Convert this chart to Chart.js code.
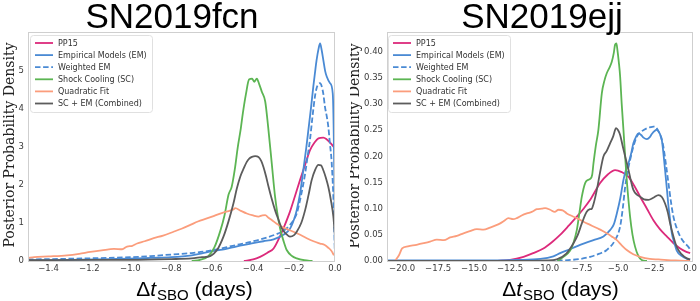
<!DOCTYPE html>
<html>
<head>
<meta charset="utf-8">
<script src="https://cdn.jsdelivr.net/npm/chart.js@4.4.1/dist/chart.umd.min.js"></script>
<style>
  html, body { margin: 0; padding: 0; background: #ffffff; }
  body { width: 700px; height: 301px; position: relative; overflow: hidden; }
  .panel { position: absolute; top: 0; width: 350px; height: 301px; }
</style>
</head>
<body>
<div class="panel" style="left:0"><canvas id="c1" width="350" height="301"></canvas></div>
<div class="panel" style="left:350px"><canvas id="c2" width="350" height="301"></canvas></div>
<script>
// ---------------- Data: SN2019fcn (left) ----------------
const fcnTicksX = [-1.4, -1.2, -1.0, -0.8, -0.6, -0.4, -0.2, 0.0];
const fcnTicksY = [0, 1, 2, 3, 4, 5];

const fcnPP15X = [-0.445, -0.40, -0.366, -0.33, -0.30, -0.268, -0.245, -0.22, -0.195, -0.171, -0.145, -0.122, -0.10, -0.081, -0.057, -0.04, -0.024, -0.005, 0.0];
const fcnPP15Y = [0.0, 0.04, 0.11, 0.22, 0.33, 0.66, 0.95, 1.3, 1.72, 2.13, 2.55, 2.92, 3.12, 3.23, 3.25, 3.2, 3.12, 3.0, 2.98];

const fcnEMX = [-1.5, -1.3, -1.1, -1.0, -0.9, -0.8, -0.7, -0.65, -0.6, -0.55, -0.5, -0.45, -0.4, -0.35, -0.3, -0.25, -0.22, -0.2, -0.187, -0.17, -0.155, -0.14, -0.13, -0.118, -0.106, -0.098, -0.09, -0.08, -0.073, -0.065, -0.057, -0.048, -0.04, -0.024, -0.011, -0.004, 0.0];
const fcnEMY = [0.02, 0.03, 0.05, 0.06, 0.08, 0.1, 0.15, 0.2, 0.26, 0.3, 0.36, 0.42, 0.47, 0.52, 0.57, 0.7, 0.85, 1.1, 1.34, 1.8, 2.39, 3.0, 3.45, 4.0, 4.59, 4.95, 5.29, 5.6, 5.73, 5.55, 5.29, 5.0, 4.85, 4.68, 4.41, 2.5, 0.0];

const fcnWEMX = [-1.5, -1.3, -1.2, -1.0, -0.9, -0.8, -0.7, -0.6, -0.5, -0.4, -0.333, -0.28, -0.25, -0.22, -0.2, -0.187, -0.165, -0.146, -0.134, -0.122, -0.11, -0.098, -0.09, -0.081, -0.073, -0.065, -0.057, -0.049, -0.04, -0.033, -0.025, -0.016, -0.005, 0.0];
const fcnWEMY = [0.04, 0.06, 0.07, 0.1, 0.13, 0.17, 0.21, 0.28, 0.4, 0.52, 0.62, 0.72, 0.8, 0.95, 1.1, 1.25, 1.75, 2.3, 2.75, 3.2, 3.8, 4.33, 4.55, 4.66, 4.68, 4.6, 4.4, 4.06, 3.8, 3.55, 3.1, 2.57, 1.2, 0.0];

const fcnSCX = [-0.70, -0.66, -0.62, -0.59, -0.56, -0.54, -0.52, -0.505, -0.49, -0.475, -0.46, -0.45, -0.435, -0.42, -0.405, -0.395, -0.382, -0.37, -0.357, -0.341, -0.327, -0.309, -0.293, -0.28, -0.268, -0.25, -0.236, -0.21, -0.187, -0.15, -0.11];
const fcnSCY = [0.0, 0.03, 0.12, 0.35, 0.8, 1.2, 1.75, 1.95, 2.4, 3.0, 3.5, 3.9, 4.4, 4.78, 4.8, 4.72, 4.8, 4.65, 4.45, 4.2, 3.55, 2.57, 1.7, 1.2, 0.85, 0.5, 0.29, 0.13, 0.07, 0.02, 0.0];

const fcnQFX = [-1.5, -1.47, -1.4, -1.31, -1.25, -1.195, -1.14, -1.08, -1.04, -1.016, -0.99, -0.967, -0.93, -0.886, -0.84, -0.789, -0.75, -0.707, -0.67, -0.626, -0.59, -0.561, -0.53, -0.496, -0.488, -0.46, -0.431, -0.4, -0.374, -0.355, -0.341, -0.325, -0.309, -0.285, -0.26, -0.23, -0.203, -0.17, -0.138, -0.105, -0.073, -0.05, -0.033, -0.018, -0.005];
const fcnQFY = [0.08, 0.1, 0.12, 0.15, 0.19, 0.24, 0.28, 0.32, 0.31, 0.38, 0.4, 0.46, 0.52, 0.6, 0.67, 0.77, 0.85, 0.95, 1.04, 1.12, 1.19, 1.25, 1.3, 1.36, 1.39, 1.32, 1.25, 1.2, 1.17, 1.2, 1.21, 1.14, 1.08, 0.98, 0.9, 0.83, 0.77, 0.69, 0.6, 0.52, 0.46, 0.42, 0.35, 0.27, 0.15];

const fcnCombX = [-1.5, -1.2, -1.0, -0.8, -0.7, -0.65, -0.61, -0.575, -0.545, -0.52, -0.496, -0.48, -0.463, -0.445, -0.431, -0.418, -0.406, -0.39, -0.374, -0.36, -0.35, -0.337, -0.325, -0.31, -0.293, -0.275, -0.26, -0.24, -0.22, -0.2, -0.187, -0.165, -0.146, -0.13, -0.114, -0.097, -0.081, -0.068, -0.057, -0.045, -0.033, -0.02, -0.008, 0.0];
const fcnCombY = [0.02, 0.03, 0.03, 0.05, 0.07, 0.1, 0.13, 0.3, 0.64, 1.05, 1.52, 1.9, 2.22, 2.45, 2.61, 2.7, 2.74, 2.76, 2.74, 2.63, 2.48, 2.23, 1.96, 1.65, 1.34, 1.07, 0.86, 0.72, 0.64, 0.68, 0.77, 1.0, 1.34, 1.72, 2.13, 2.4, 2.53, 2.52, 2.39, 2.2, 1.96, 1.6, 1.17, 0.65];

// ---------------- Data: SN2019ejj (right) ----------------
const ejjTicksX = [-20, -17.5, -15, -12.5, -10, -7.5, -5, -2.5, 0];
const ejjTicksY = [0, 0.05, 0.10, 0.15, 0.20, 0.25, 0.30, 0.35, 0.40];

const ejjPP15X = [-13.5, -12.5, -11.57, -10.9, -10.19, -9.6, -9.03, -8.45, -7.87, -7.4, -6.94, -6.25, -5.7, -5.21, -4.75, -4.28, -3.9, -3.47, -3.0, -2.55, -2.1, -1.62, -1.15, -0.69, -0.3, 0.0];
const ejjPP15Y = [0.0, 0.002, 0.008, 0.015, 0.024, 0.036, 0.05, 0.067, 0.085, 0.1, 0.117, 0.149, 0.166, 0.174, 0.17, 0.161, 0.145, 0.123, 0.1, 0.078, 0.061, 0.047, 0.034, 0.024, 0.018, 0.015];

const ejjEMX = [-21.05, -15, -12, -10.4, -9.5, -9.03, -8.3, -7.64, -6.71, -6.02, -5.56, -5.3, -5.09, -4.85, -4.63, -4.45, -4.28, -4.1, -3.94, -3.75, -3.59, -3.4, -3.24, -3.0, -2.8, -2.66, -2.45, -2.31, -2.1, -1.97, -1.85, -1.74, -1.62, -1.5, -1.38, -1.27, -1.1, -0.93, -0.6, -0.2, 0.0];
const ejjEMY = [0.001, 0.001, 0.002, 0.004, 0.009, 0.015, 0.023, 0.031, 0.04, 0.047, 0.059, 0.07, 0.091, 0.12, 0.155, 0.175, 0.187, 0.205, 0.225, 0.238, 0.244, 0.241, 0.236, 0.233, 0.237, 0.243, 0.249, 0.251, 0.243, 0.232, 0.205, 0.174, 0.14, 0.104, 0.077, 0.053, 0.035, 0.02, 0.01, 0.004, 0.003];

const ejjWEMX = [-21.05, -12, -9, -7.6, -6.94, -6.3, -5.79, -5.21, -4.86, -4.68, -4.51, -4.35, -4.17, -3.95, -3.7, -3.36, -3.0, -2.75, -2.55, -2.35, -2.2, -2.0, -1.86, -1.68, -1.5, -1.33, -1.16, -0.92, -0.69, -0.4, -0.12, 0.0];
const ejjWEMY = [0.0, 0.0, 0.001, 0.004, 0.008, 0.014, 0.021, 0.04, 0.066, 0.1, 0.142, 0.17, 0.193, 0.218, 0.238, 0.248, 0.254, 0.256, 0.257, 0.255, 0.248, 0.235, 0.219, 0.185, 0.148, 0.113, 0.085, 0.062, 0.047, 0.035, 0.027, 0.022];

const ejjSCX = [-9.2, -8.8, -8.33, -8.1, -7.87, -7.7, -7.52, -7.29, -7.1, -6.94, -6.8, -6.71, -6.55, -6.37, -6.13, -5.95, -5.79, -5.6, -5.44, -5.3, -5.21, -5.12, -5.05, -4.95, -4.86, -4.75, -4.63, -4.5, -4.4, -4.17, -4.0, -3.82, -3.6, -3.36, -3.0];
const ejjSCY = [0.0, 0.008, 0.02, 0.035, 0.059, 0.09, 0.123, 0.149, 0.155, 0.157, 0.165, 0.187, 0.22, 0.251, 0.321, 0.345, 0.359, 0.37, 0.381, 0.398, 0.414, 0.416, 0.404, 0.38, 0.353, 0.3, 0.251, 0.195, 0.155, 0.085, 0.05, 0.027, 0.01, 0.002, 0.0];

const ejjQFX = [-20.5, -20.2, -20.0, -19.6, -19.0, -18.5, -18.06, -17.59, -17.1, -16.67, -16.2, -15.74, -15.3, -14.81, -14.35, -13.89, -13.5, -13.19, -12.9, -12.62, -12.3, -12.04, -11.7, -11.34, -11.0, -10.65, -10.3, -10.07, -9.72, -9.4, -9.14, -8.85, -8.56, -8.2, -7.87, -7.4, -6.94, -6.48, -6.1, -5.79, -5.45, -5.09, -4.75, -4.4, -3.95, -3.47, -2.8, -2.2, -1.0, 0.0];
const ejjQFY = [0.0, 0.012, 0.024, 0.028, 0.031, 0.034, 0.037, 0.041, 0.04, 0.045, 0.048, 0.053, 0.057, 0.061, 0.06, 0.064, 0.068, 0.072, 0.077, 0.082, 0.08, 0.082, 0.087, 0.091, 0.094, 0.099, 0.1, 0.101, 0.098, 0.094, 0.098, 0.097, 0.091, 0.086, 0.082, 0.075, 0.069, 0.063, 0.058, 0.053, 0.047, 0.04, 0.03, 0.021, 0.013, 0.008, 0.004, 0.003, 0.001, 0.0];

const ejjCombX = [-21.05, -12, -10, -9.26, -8.6, -8.1, -7.8, -7.52, -7.18, -6.95, -6.83, -6.65, -6.48, -6.25, -6.02, -5.8, -5.56, -5.35, -5.14, -5.0, -4.86, -4.7, -4.51, -4.28, -4.1, -3.94, -3.7, -3.47, -3.2, -2.89, -2.55, -2.2, -1.95, -1.74, -1.55, -1.39, -1.15, -0.93, -0.6, -0.23, 0.0];
const ejjCombY = [0.0, 0.0, 0.001, 0.003, 0.014, 0.034, 0.05, 0.072, 0.094, 0.099, 0.1, 0.115, 0.136, 0.17, 0.2, 0.21, 0.225, 0.238, 0.254, 0.25, 0.241, 0.222, 0.2, 0.174, 0.152, 0.136, 0.127, 0.123, 0.118, 0.117, 0.121, 0.126, 0.122, 0.11, 0.093, 0.072, 0.046, 0.027, 0.013, 0.005, 0.003];

const seriesNames = ['PP15', 'Empirical Models (EM)', 'Weighted EM', 'Shock Cooling (SC)', 'Quadratic Fit', 'SC + EM (Combined)'];
const seriesColors = ['#dc2a7b', '#4a8ad4', '#4a8ad4', '#5cb553', '#fb9d7c', '#5c5c5c'];
const seriesDash = [[], [], [5.5, 2.6], [], [], []];

// ---------------- helpers ----------------
function pts(xs, ys) { return xs.map((x, i) => ({ x: x, y: ys[i] })); }
function fmt(v, d) { const s = Math.abs(v) < 1e-9 ? (0).toFixed(d) : v.toFixed(d); return s.replace('-', '\u2212'); }

function makeDatasets(xsList, ysList) {
  return seriesNames.map((name, i) => ({
    label: name,
    data: pts(xsList[i], ysList[i]),
    borderColor: seriesColors[i],
    backgroundColor: seriesColors[i],
    borderWidth: 1.8,
    borderDash: seriesDash[i],
    pointRadius: 0,
    fill: false,
    cubicInterpolationMode: 'monotone',
    order: 6 - i
  }));
}

const extrasPlugin = {
  id: 'extras',
  afterDraw(chart, args, o) {
    const ctx = chart.ctx, ca = chart.chartArea;
    ctx.save();
    // frame
    ctx.strokeStyle = '#cfcfcf';
    ctx.lineWidth = 1;
    ctx.strokeRect(ca.left + 0.5, ca.top + 0.5, ca.right - ca.left - 1, ca.bottom - ca.top);
    // title
    ctx.fillStyle = '#000';
    ctx.font = '35px "Liberation Sans", Arial, sans-serif';
    ctx.textAlign = 'center';
    ctx.textBaseline = 'alphabetic';
    ctx.fillText(o.title, o.titleX, 28);
    // y title
    ctx.save();
    ctx.translate(o.yTitleX, o.yTitleY);
    ctx.rotate(-Math.PI / 2);
    ctx.font = '14px "DejaVu Serif", serif';
    ctx.fillStyle = '#222';
    ctx.textAlign = 'center';
    ctx.textBaseline = 'middle';
    ctx.fillText('Posterior Probability Density', 0, 0);
    ctx.restore();
    // x title: Δt_SBO (days)
    const big = '21px "Liberation Sans", Arial, sans-serif';
    const ital = 'italic 21px "Liberation Sans", Arial, sans-serif';
    const sub = '15px "Liberation Sans", Arial, sans-serif';
    const parts = [['\u0394', big, 0], ['t', ital, 0], ['SBO', sub, 3.5], [' (days)', big, 0]];
    let total = 0;
    parts.forEach(p => { ctx.font = p[1]; p.push(ctx.measureText(p[0]).width); total += p[3]; });
    let x = o.xTitleX - total / 2;
    ctx.textAlign = 'left';
    ctx.textBaseline = 'alphabetic';
    ctx.fillStyle = '#000';
    parts.forEach(p => { ctx.font = p[1]; ctx.fillText(p[0], x, 296 + p[2]); x += p[3] + (p[0] === 't' ? 1 : 0); });
    // legend
    const lx = o.legendX, ly = 35, lw = o.legendW, lh = 77;
    ctx.fillStyle = 'rgba(255,255,255,0.85)';
    ctx.strokeStyle = '#e0e0e0';
    ctx.lineWidth = 1;
    ctx.beginPath();
    if (ctx.roundRect) ctx.roundRect(lx + 0.5, ly + 0.5, lw, lh, 3); else ctx.rect(lx + 0.5, ly + 0.5, lw, lh);
    ctx.fill();
    ctx.stroke();
    ctx.font = '8px "DejaVu Sans", sans-serif';
    ctx.textBaseline = 'middle';
    ctx.textAlign = 'left';
    seriesNames.forEach((name, i) => {
      const yy = 43 + i * 12.1;
      ctx.strokeStyle = seriesColors[i];
      ctx.lineWidth = 1.8;
      ctx.setLineDash(seriesDash[i]);
      ctx.beginPath();
      ctx.moveTo(lx + 5, yy);
      ctx.lineTo(lx + 23, yy);
      ctx.stroke();
      ctx.setLineDash([]);
      ctx.fillStyle = '#333';
      ctx.fillText(name, lx + 28, yy + 0.5);
    });
    ctx.restore();
  }
};

function makeChart(id, cfg) {
  const tickFont = { family: '"DejaVu Sans", sans-serif', size: 8.5 };
  return new Chart(document.getElementById(id), {
    type: 'line',
    data: { datasets: makeDatasets(cfg.xs, cfg.ys) },
    options: {
      responsive: false,
      animation: false,
      events: [],
      layout: { padding: { left: 0, right: cfg.padRight, top: 32, bottom: 0 } },
      plugins: {
        legend: { display: false },
        tooltip: { enabled: false },
        title: { display: false },
        extras: cfg.extras
      },
      scales: {
        x: {
          type: 'linear', min: cfg.xMin, max: cfg.xMax,
          afterBuildTicks: s => { s.ticks = cfg.ticksX.map(v => ({ value: v })); },
          afterFit: s => { s.height = 40; },
          grid: { display: false, drawTicks: false }, border: { display: false },
          ticks: { autoSkip: false, maxRotation: 0, padding: 3, color: '#3a3a3a', font: tickFont,
                   callback: v => fmt(v, 1) }
        },
        y: {
          type: 'linear', min: 0, max: cfg.yMax,
          afterBuildTicks: s => { s.ticks = cfg.ticksY.map(v => ({ value: v })); },
          afterFit: s => { s.width = cfg.yWidth; },
          grid: { display: false, drawTicks: false }, border: { display: false },
          ticks: { autoSkip: false, padding: 4, color: '#3a3a3a', font: tickFont,
                   callback: v => fmt(v, cfg.yDec) }
        }
      }
    },
    plugins: [extrasPlugin]
  });
}

makeChart('c1', {
  xs: [fcnPP15X, fcnEMX, fcnWEMX, fcnSCX, fcnQFX, fcnCombX],
  ys: [fcnPP15Y, fcnEMY, fcnWEMY, fcnSCY, fcnQFY, fcnCombY],
  xMin: -1.5, xMax: 0.0, yMax: 6.03,
  ticksX: fcnTicksX, ticksY: fcnTicksY, yDec: 0,
  yWidth: 28, padRight: 15,
  extras: { title: 'SN2019fcn', titleX: 172, yTitleX: 10, yTitleY: 145, xTitleX: 194, legendX: 30, legendW: 122 }
});

makeChart('c2', {
  xs: [ejjPP15X, ejjEMX, ejjWEMX, ejjSCX, ejjQFX, ejjCombX],
  ys: [ejjPP15Y, ejjEMY, ejjWEMY, ejjSCY, ejjQFY, ejjCombY],
  xMin: -21.05, xMax: 0.2, yMax: 0.438,
  ticksX: ejjTicksX, ticksY: ejjTicksY, yDec: 2,
  yWidth: 37, padRight: 7,
  extras: { title: 'SN2019ejj', titleX: 192, yTitleX: 5, yTitleY: 146, xTitleX: 210, legendX: 38, legendW: 122 }
});
</script>
</body>
</html>
